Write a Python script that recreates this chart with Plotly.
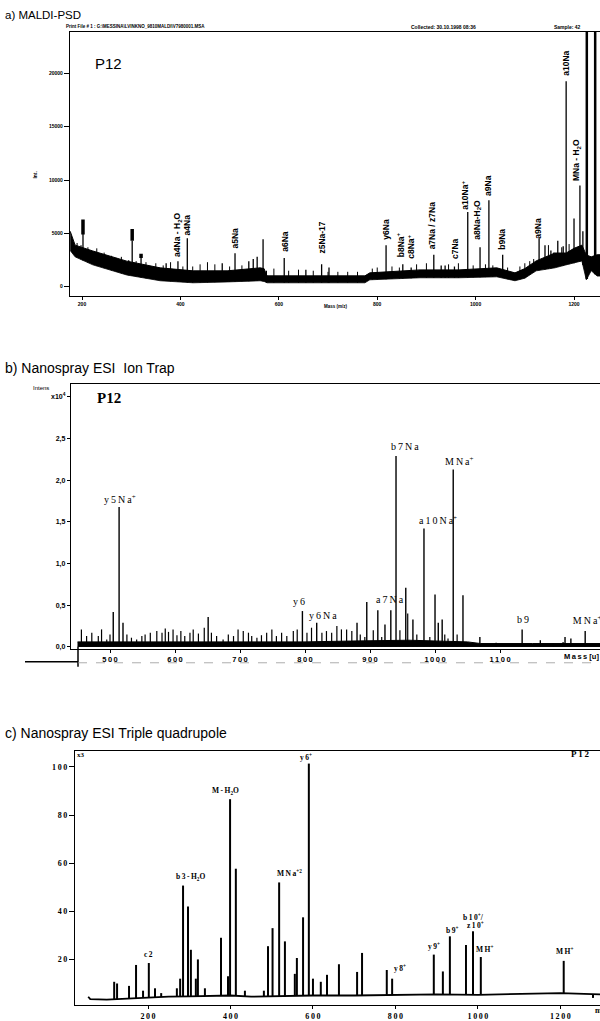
import numpy as np
import plotly.graph_objects as go

W, H = 600, 1021
def px(x): return x / W
def py(y): return 1 - y / H
TS = "\u2009"  # thin space for letter-spaced labels
def sp(s): return TS.join(list(s))

# ---------------- Panel a : MALDI-PSD ----------------
a_peak_mass = [202, 302, 320, 371, 395, 414, 485, 511, 539, 548, 556, 568, 611, 655, 687, 702,
               818, 852, 869, 915, 930, 938, 957, 984, 1009, 1027, 1045, 1055, 1072,
               1129, 1141, 1153, 1159, 1167, 1178, 1184, 1200, 1212, 1218]
a_peak_int = [5000, 4300, 3000, 2200, 2400, 4550, 2200, 3150, 2400, 2600, 2800, 4450, 2700, 1600, 2100, 1800,
              3900, 2100, 1800, 3000, 2000, 2000, 1900, 7000, 3700, 8100, 1300, 3000, 1000,
              4550, 3900, 3400, 3200, 4300, 3800, 19250, 6400, 9500, 5200]
a_tall_mass = [1226, 1243]
a_tall_int = [30000, 30000]
a_grass_mass = [190, 198, 212, 230, 245, 260, 270, 280, 295, 310, 330, 350, 365, 380, 405, 425, 440, 455, 470,
                500, 525, 575, 590, 620, 640, 670, 700, 720, 740, 760, 790, 800, 830, 845, 880, 900, 945, 965,
                995, 1020, 1035, 1065, 1090, 1100, 1110, 1118, 1148, 1175, 1190]
a_grass_int = [4100, 3900, 3700, 3600, 3200, 2900, 2700, 2800, 2500, 2400, 2300, 2200, 2000, 2300, 1900, 1900,
               2100, 2300, 2100, 1900, 2000, 1500, 1700, 1500, 1600, 1500, 1400, 1400, 1400, 1400, 1700, 1800,
               1900, 1800, 2100, 2200, 2100, 2200, 2000, 2100, 2000, 1800, 1900, 2200, 2400, 2600, 3900, 3700, 4000]
a_env_mass = [176, 186, 222, 291, 359, 426, 495, 562, 570, 576, 643, 720, 775, 785, 887, 966, 1043,
              1080, 1100, 1123, 1161, 1184, 1200, 1216, 1225, 1235, 1247, 1253]
a_env_high = [5200, 3900, 3350, 2400, 1770, 1490, 1490, 1770, 1700, 1020, 1020, 1000, 1020, 1300, 1580, 1580, 1770,
              1300, 1700, 2420, 3160, 3160, 3600, 3900, 2980, 2800, 3000, 3000]
a_env_low = [3400, 2800, 2050, 1100, 560, 370, 450, 560, 500, 370, 370, 370, 370, 650, 840, 840, 930,
             560, 800, 1490, 1770, 2050, 2200, 2420, 650, 1500, 1000, 1000]
a_mark_mass = [202, 302, 320]
a_mark_lo = [4900, 4300, 2700]
a_mark_hi = [6300, 5400, 3100]
a_label_mass = [395, 414, 511, 611, 687, 816, 848, 868, 912, 957, 980, 1002, 1025, 1054, 1127, 1183, 1205]
a_label_base = [2700, 4700, 3440, 3160, 2980, 4280, 2700, 2500, 3440, 2500, 7160, 4280, 8460, 3350, 4370, 19700, 9860]
a_label_text = ["a4Na - H<sub>2</sub>O", "a4Na", "a5Na", "a6Na", "z5Na-17", "y6Na", "b8Na<sup>+</sup>",
                "c8Na<sup>+</sup>", "a7Na / z7Na", "c7Na", "a10Na<sup>+</sup>", "a8Na-H<sub>2</sub>O", "a9Na",
                "b9Na", "a9Na", "a10Na", "MNa - H<sub>2</sub>O"]
a_xticks = [200, 400, 600, 800, 1000, 1200]
a_yticks = [0, 5000, 10000, 15000, 20000]

# ---------------- Panel b : Ion trap ----------------
b_peak_mass = [505, 514, 520, 651, 796, 818, 880, 895, 912, 923, 932, 940, 955, 966, 983, 1000, 1005,
               1011, 1028, 1043, 1069, 1094, 1134, 1162, 1200, 1209, 1231]
b_peak_int = [0.42, 1.68, 0.29, 0.36, 0.43, 0.29, 0.29, 0.54, 0.44, 0.27, 0.44, 2.29, 0.71, 0.33, 1.42, 0.63, 0.29,
              0.33, 2.13, 0.62, 0.12, 0.05, 0.21, 0.08, 0.12, 0.10, 0.19]
b_grass_mass = [456, 464, 472, 482, 487, 495, 500, 526, 533, 541, 549, 554, 562, 572, 580, 585, 590, 597, 603,
                609, 615, 623, 628, 636, 645, 656, 664, 674, 682, 690, 697, 705, 713, 718, 726, 733, 741, 749,
                756, 764, 772, 782, 788, 803, 810, 826, 833, 841, 849, 856, 864, 872, 885, 892, 905, 918, 946,
                958, 972, 992, 1015, 1020, 1034, 1049, 1166, 1182, 1197]
b_grass_int = [0.21, 0.13, 0.17, 0.13, 0.21, 0.09, 0.15, 0.15, 0.11, 0.09, 0.13, 0.15, 0.17, 0.19, 0.17, 0.22,
               0.18, 0.21, 0.14, 0.19, 0.13, 0.17, 0.21, 0.16, 0.23, 0.17, 0.13, 0.09, 0.15, 0.13, 0.21, 0.19,
               0.17, 0.13, 0.11, 0.14, 0.17, 0.21, 0.13, 0.17, 0.13, 0.19, 0.21, 0.17, 0.23, 0.17, 0.19, 0.17,
               0.25, 0.21, 0.21, 0.19, 0.15, 0.12, 0.20, 0.12, 0.20, 0.40, 0.15, 0.12, 0.15, 0.10, 0.15, 0.05,
               0.03, 0.04, 0.06]
b_env_mass = [450, 600, 800, 870, 960, 1050, 1070, 1150, 1254]
b_env_high = [0.06, 0.06, 0.06, 0.07, 0.08, 0.06, 0.04, 0.04, 0.04]
b_env_low = [0.005, 0.005, 0.005, 0.005, 0.005, 0.005, 0.005, 0.005, 0.005]
b_label_mass = [515, 954, 1037, 1005, 931, 791, 828, 1135]
b_label_int = [1.77, 2.40, 2.23, 1.52, 0.57, 0.55, 0.38, 0.33]
b_label_text = ["y5Na<sup>+</sup>", "b7Na", "MNa<sup>+</sup>", "a10Na<sup>+</sup>", "a7Na", "y6", "y6Na", "b9"]
b_xticks = [500, 600, 700, 800, 900, 1000, 1100]
b_yticks = [0.0, 0.5, 1.0, 1.5, 2.0, 2.5, 3.0]
b_yticktext = ["0,0", "0,5", "1,0", "1,5", "2,0", "2,5", "x10<sup>4</sup>"]

# ---------------- Panel c : Triple quadrupole ----------------
c_peak_mass = [118, 125, 154, 171, 188, 202, 217, 232, 270, 278, 285, 297, 304, 316, 321, 338, 377, 394, 399,
               413, 435, 481, 491, 502, 518, 532, 556, 561, 576, 590, 600, 619, 634, 663, 707, 719, 779, 792,
               893, 915, 932, 971, 988, 1007, 1208, 1279]
c_peak_int = [10.7, 10, 9, 17.7, 7, 18.5, 8, 6, 8, 12, 50.7, 42, 24, 12, 20, 8, 29, 13, 86.6,
              57.7, 7, 7, 25.5, 33, 52, 27.5, 14, 20.6, 37.5, 101.4, 12, 10.7, 13.6, 18, 14.8, 22.7, 15.6, 12,
              22, 15, 29.6, 26, 31.7, 21, 19.4, 4]
c_base_mass = [55, 60, 100, 150, 200, 250, 300, 350, 400, 450, 500, 600, 700, 800, 900, 1000, 1100, 1200, 1296]
c_base_int = [4.5, 3.5, 3.3, 3.8, 4.2, 4.5, 4.6, 4.8, 5.0, 4.5, 4.7, 5.0, 5.0, 5.2, 5.5, 5.3, 5.8, 6.0, 5.5]
c_label_mass = [202, 302, 389, 544, 583, 811, 893, 937, 989, 993, 1017, 1211]
c_label_int = [22, 54.4, 90, 56, 104, 16.5, 25.7, 32.4, 37.7, 34.4, 24.5, 23.3]
c_label_text = ["c2", "b3-H<sub>2</sub>O", "M-H<sub>2</sub>O", "MNa<sup>+2</sup>", "y6<sup>+</sup>",
                "y8<sup>+</sup>", "y9<sup>+</sup>", "b9<sup>+</sup>", "b10<sup>+</sup>/", "z10<sup>+</sup>",
                "MH<sup>+</sup>", "MH<sup>+</sup>"]
c_xticks = [200, 400, 600, 800, 1000, 1200]
c_yticks = [20, 40, 60, 80, 100]


def sticks(xs, ys, base):
    X, Y = [], []
    for x, y, b in zip(xs, ys, base):
        X += [x, x, None]
        Y += [b, y, None]
    return X, Y


fig = go.Figure()

# ---- panel a traces
fig.add_trace(go.Scatter(x=a_env_mass, y=a_env_low, mode="lines", line=dict(color="black", width=0.8),
                         xaxis="x", yaxis="y", hoverinfo="skip"))
fig.add_trace(go.Scatter(x=a_env_mass, y=a_env_high, mode="lines", line=dict(color="black", width=1),
                         fill="tonexty", fillcolor="black", xaxis="x", yaxis="y", hoverinfo="skip"))
base = np.interp(a_grass_mass, a_env_mass, a_env_low)
X, Y = sticks(a_grass_mass, a_grass_int, base)
fig.add_trace(go.Scatter(x=X, y=Y, mode="lines", line=dict(color="black", width=1), xaxis="x", yaxis="y"))
base = np.interp(a_peak_mass, a_env_mass, a_env_low)
X, Y = sticks(a_peak_mass, a_peak_int, base)
fig.add_trace(go.Scatter(x=X, y=Y, mode="lines", line=dict(color="black", width=1.3), xaxis="x", yaxis="y"))
base = np.interp(a_tall_mass, a_env_mass, a_env_low)
X, Y = sticks(a_tall_mass, a_tall_int, base)
fig.add_trace(go.Scatter(x=X, y=Y, mode="lines", line=dict(color="black", width=2.5), xaxis="x", yaxis="y"))
X, Y = sticks(a_mark_mass, a_mark_hi, a_mark_lo)
fig.add_trace(go.Scatter(x=X, y=Y, mode="lines", line=dict(color="black", width=3.5), xaxis="x", yaxis="y"))

for m, b, t in zip(a_label_mass, a_label_base, a_label_text):
    fig.add_annotation(x=m, y=b, xref="x", yref="y", text="<b>" + t + "</b>", textangle=-90,
                       showarrow=False, xanchor="center", yanchor="bottom", borderpad=0,
                       font=dict(size=8.5, family="Liberation Sans", color="black"))

# ---- panel b traces
fig.add_trace(go.Scatter(x=b_env_mass, y=b_env_low, mode="lines", line=dict(color="black", width=1),
                         xaxis="x2", yaxis="y2", hoverinfo="skip"))
fig.add_trace(go.Scatter(x=b_env_mass, y=b_env_high, mode="lines", line=dict(color="black", width=1),
                         fill="tonexty", fillcolor="black", xaxis="x2", yaxis="y2", hoverinfo="skip"))
X, Y = sticks(b_grass_mass, b_grass_int, [0.005] * len(b_grass_mass))
fig.add_trace(go.Scatter(x=X, y=Y, mode="lines", line=dict(color="black", width=1.2), xaxis="x2", yaxis="y2"))
X, Y = sticks(b_peak_mass, b_peak_int, [0.005] * len(b_peak_mass))
fig.add_trace(go.Scatter(x=X, y=Y, mode="lines", line=dict(color="black", width=1.4), xaxis="x2", yaxis="y2"))
fig.add_trace(go.Scatter(x=[1212], y=[0.30], mode="text", text=[sp("MNa") + "<sup>+</sup>"],
                         textposition="middle right", cliponaxis=True,
                         textfont=dict(size=10, family="Liberation Serif", color="black"),
                         xaxis="x2", yaxis="y2"))
for m, v, t in zip(b_label_mass, b_label_int, b_label_text):
    plain = t.split("<")[0]
    rest = t[len(plain):]
    fig.add_annotation(x=m, y=v, xref="x2", yref="y2", text=sp(plain) + rest, showarrow=False,
                       xanchor="center", yanchor="middle", borderpad=0,
                       font=dict(size=10, family="Liberation Serif", color="black"))

# ---- panel c traces
fig.add_trace(go.Scatter(x=c_base_mass, y=c_base_int, mode="lines", line=dict(color="black", width=1.8),
                         xaxis="x3", yaxis="y3", hoverinfo="skip"))
base = np.interp(c_peak_mass, c_base_mass, c_base_int)
X, Y = sticks(c_peak_mass, c_peak_int, base)
fig.add_trace(go.Scatter(x=X, y=Y, mode="lines", line=dict(color="black", width=2), xaxis="x3", yaxis="y3"))
for m, v, t in zip(c_label_mass, c_label_int, c_label_text):
    plain = t.split("<")[0]
    rest = t[len(plain):]
    fig.add_annotation(x=m, y=v, xref="x3", yref="y3", text="<b>" + sp(plain) + rest + "</b>", showarrow=False,
                       xanchor="center", yanchor="middle", borderpad=0,
                       font=dict(size=7.5, family="Liberation Serif", color="black"))

# ---- paper annotations
def note(x, y, text, size, family="Liberation Sans", xanchor="left", angle=0, bold=False):
    fig.add_annotation(x=px(x), y=py(y), xref="paper", yref="paper", text=("<b>%s</b>" % text) if bold else text,
                       showarrow=False, xanchor=xanchor, yanchor="middle", textangle=angle, borderpad=0,
                       font=dict(size=size, family=family, color="black"))

note(4, 15, "a) MALDI-PSD", 11.5)
note(4, 371, "b) Nanospray ESI  Ion Trap", 14)
note(4, 739, "c) Nanospray ESI Triple quadrupole", 14)
note(65, 27, "Print File # 1 : G:\\MESSINA\\LVINKNO_9810MALDI\\V7980001.MSA", 4.5, bold=True)
note(410, 27, "Collected: 30.10.1998 08:36", 5, bold=True)
note(553, 27, "Sample: 42", 5, bold=True)
note(94, 64, "P12", 15)
note(35, 176, "Int.", 5, xanchor="center", angle=-90, bold=True)
note(336, 309, "Mass (m/z)", 4.5, xanchor="center", bold=True)
note(96, 401, "<b>P12</b>", 15, family="Liberation Serif")
note(41, 391, "Intens", 6, xanchor="center")
note(563, 662, sp("Mass") + " [u]", 7.5, bold=True)
note(76, 761, "x3", 7, family="Liberation Serif", bold=True)
note(570, 760, "P" + TS + "1" + TS + "2", 9, family="Liberation Serif", bold=True)
note(594, 1018, "m/z", 8, family="Liberation Serif", bold=True)

# scan artifacts below panel b axis
fig.add_shape(type="line", xref="paper", yref="paper", x0=px(25), x1=px(78), y0=py(667), y1=py(667),
              line=dict(color="black", width=1.5))
fig.add_shape(type="line", xref="paper", yref="paper", x0=px(78), x1=px(78), y0=py(652), y1=py(672),
              line=dict(color="black", width=1.5))
fig.add_shape(type="line", xref="paper", yref="paper", x0=px(78), x1=px(600), y0=py(668), y1=py(668),
              line=dict(color="#999999", width=0.8, dash="dash"))

ax = dict(showgrid=False, zeroline=False, showline=True, linecolor="black", ticks="outside",
          tickcolor="black")
fig.update_layout(
    width=W, height=H, margin=dict(l=0, r=0, t=0, b=0), paper_bgcolor="white", plot_bgcolor="white",
    showlegend=False, font=dict(family="Liberation Sans", color="black"),
    xaxis=dict(ax, domain=[px(70), 1], range=[175.6, 1252.8], anchor="y", mirror=True, linewidth=1.3,
               tickvals=a_xticks, ticktext=[str(v) for v in a_xticks], ticklen=3, tickwidth=1,
               tickfont=dict(size=5, family="Liberation Sans", weight="bold")),
    yaxis=dict(ax, domain=[py(298), py(32)], range=[-837, 23900], anchor="x", linewidth=1.3,
               tickvals=a_yticks, ticktext=[str(v) for v in a_yticks], ticklen=5, tickwidth=1,
               tickfont=dict(size=5, family="Liberation Sans", weight="bold")),
    xaxis2=dict(ax, domain=[px(71), 1], range=[440, 1253.8], anchor="y2", mirror=True, linewidth=1.3,
                tickvals=b_xticks, ticktext=[sp(str(v)) for v in b_xticks], ticklen=3,
                tickfont=dict(size=7.5, family="Liberation Sans", weight="bold")),
    yaxis2=dict(ax, domain=[py(654), py(387)], range=[-0.024, 3.155], anchor="x2", linewidth=1.3,
                tickvals=b_yticks, ticktext=b_yticktext, ticklen=3,
                tickfont=dict(size=7, family="Liberation Sans", weight="bold")),
    xaxis3=dict(ax, domain=[px(75), 1], range=[23, 1296], anchor="y3", mirror=True, linewidth=1.3,
                tickvals=c_xticks, ticktext=[sp(str(v)) for v in c_xticks], ticklen=3,
                tickfont=dict(size=8, family="Liberation Serif", weight="bold")),
    yaxis3=dict(ax, domain=[py(1013), py(757)], range=[1.03, 106.6], anchor="x3", linewidth=1.3,
                tickvals=c_yticks, ticktext=[sp(str(v)) for v in c_yticks], ticklen=5,
                tickfont=dict(size=8, family="Liberation Serif", weight="bold")),
)

fig.write_html("out.html", config={"displayModeBar": False},
               post_script="document.body.style.margin='0';document.body.style.overflow='hidden';")
